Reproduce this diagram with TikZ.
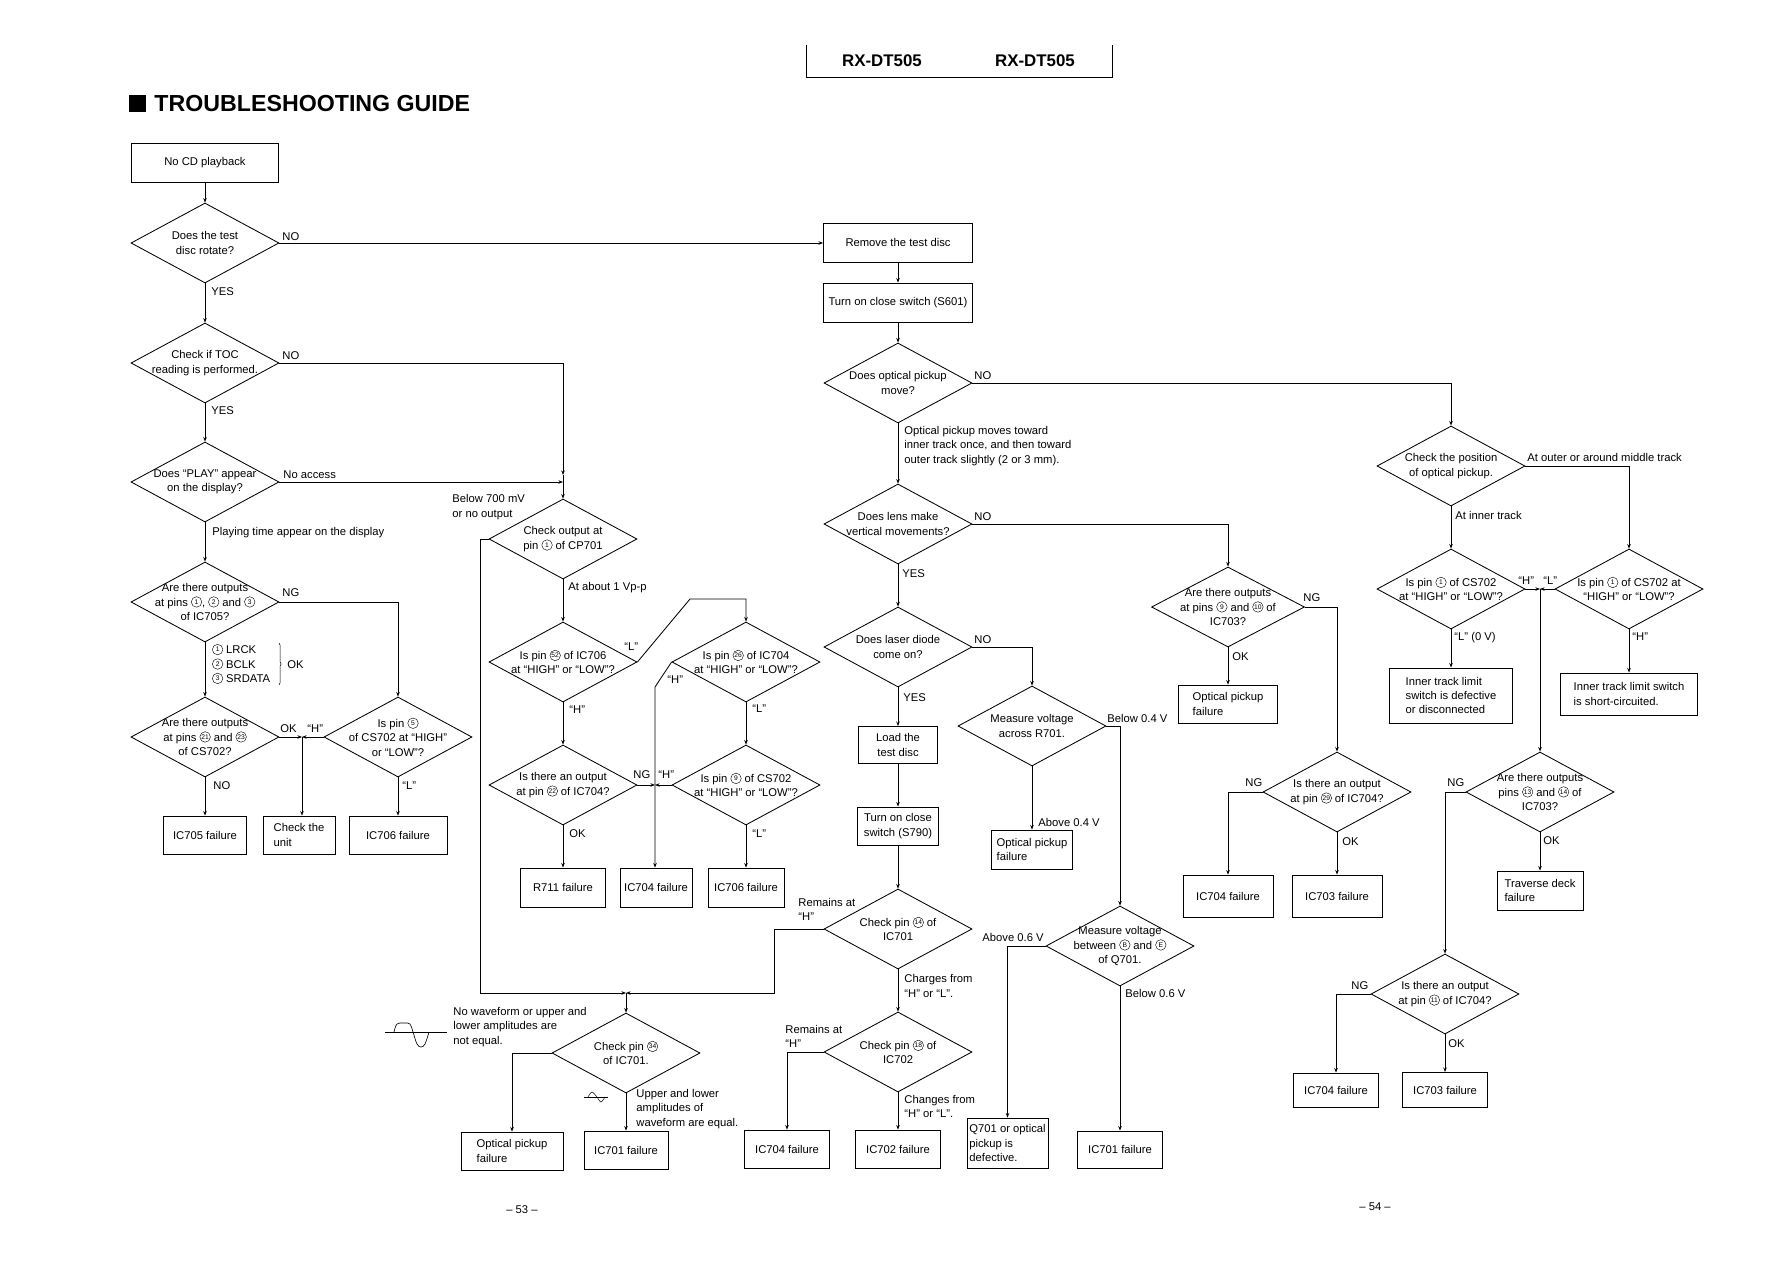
\documentclass[tikz,border=0pt]{standalone}
\usepackage{fontspec}
\setmainfont{Liberation Sans}
\usetikzlibrary{shapes.geometric, arrows.meta, decorations.pathreplacing}

\newcommand{\ft}{\fontsize{16}{20.5}\selectfont}
% số chân khoanh tròn
\newcommand{\pin}[1]{\tikz[baseline={([yshift=2pt]pn.south)}]\node[draw, circle, line width=0.6pt, inner sep=0pt, minimum size=15pt, font=\fontsize{9.5}{9.5}\selectfont] (pn) {#1};}

\begin{document}
\begin{tikzpicture}[x=0.5mm, y=-0.5mm, >={Stealth[length=6.5pt,width=5pt]}, line width=1.2pt, font=\ft,
	dia/.style={draw, diamond, minimum width=74mm, minimum height=40mm, inner sep=0pt},
	box/.style={draw, inner sep=2pt, align=center},
	lbox/.style={draw, inner sep=2pt, align=left},
	wh/.style 2 args={minimum width=#1*0.5mm, minimum height=#2*0.5mm},
	txt/.style={align=center, inner sep=0pt},
	lbl/.style={anchor=west, inner sep=0pt, align=left}]
	\useasboundingbox (0,0) rectangle (1786,1263);
	
	% Các cột chính
	\pgfmathsetmacro{\xA}{205}
	\pgfmathsetmacro{\xB}{563}
	\pgfmathsetmacro{\xC}{898}
	
	% Tiêu đề
	\fill (129,95) rectangle (146,112);
	\node[lbl, font=\fontsize{33}{33}\selectfont\bfseries] (title) at (154,103.5) {TROUBLESHOOTING GUIDE};
	\draw (806,45) -- (806,77) -- (1112,77) -- (1112,45);
	\node[font=\fontsize{24}{24}\selectfont\bfseries] (modA) at (882,61) {RX-DT505};
	\node[font=\fontsize{24}{24}\selectfont\bfseries] (modB) at (1035,61) {RX-DT505};
	
	% Cột trái
	\node[box, wh={147}{39}] (start) at (\xA,162.5) {No CD playback};
	\node[dia, label={[txt]center:{Does the test\\disc rotate?}}] (d1) at (\xA,243) {};
	\node[dia, label={[txt]center:{Check if TOC\\reading is performed.}}] (d2) at (\xA,363) {};
	\node[dia, label={[txt]center:{Does ``PLAY'' appear\\on the display?}}] (d3) at (\xA,482) {};
	\node[dia, label={[txt]center:{Are there outputs\\at pins \pin{1}, \pin{2} and \pin{3}\\of IC705?}}] (d4) at (\xA,602) {};
	\node[dia, label={[txt]center:{Are there outputs\\at pins \pin{21} and \pin{23}\\of CS702?}}] (d5) at (\xA,737) {};
	\node[dia, label={[txt]center:{Is pin \pin{5}\\of CS702 at ``HIGH''\\or ``LOW''?}}] (d6) at (398,737) {};
	\node[box, wh={83}{38}] (f705) at (\xA,835) {IC705 failure};
	\node[lbox, wh={72}{38}] (unit) at (299,835) {Check the\\unit};
	\node[box, wh={98}{38}] (f706a) at (398,835) {IC706 failure};
	
	% Cột giữa trái
	\node[dia, label={[txt]center:{Check output at\\pin \pin{1} of CP701}}] (d7) at (\xB,539) {};
	\node[dia, label={[txt]center:{Is pin \pin{52} of IC706\\at ``HIGH'' or ``LOW''?}}] (d8) at (\xB,662) {};
	\node[dia, label={[txt]center:{Is pin \pin{26} of IC704\\at ``HIGH'' or ``LOW''?}}] (d9) at (746,662) {};
	\node[dia, label={[txt]center:{Is there an output\\at pin \pin{22} of IC704?}}] (d10) at (\xB,785) {};
	\node[dia, label={[txt]center:{Is pin \pin{9} of CS702\\at ``HIGH'' or ``LOW''?}}] (d11) at (746,785) {};
	\node[box, wh={85}{39}] (f711) at (\xB,887.5) {R711 failure};
	\node[box, wh={72}{39}] (f704a) at (656,887.5) {IC704 failure};
	\node[box, wh={76}{39}] (f706b) at (746,887.5) {IC706 failure};
	\node[dia, label={[txt]center:{Check pin \pin{34}\\of IC701.}}] (d12) at (626,1053) {};
	\node[lbox, wh={102}{38}] (fopt1) at (512,1151) {Optical pickup\\failure};
	\node[box, wh={84}{38}] (f701a) at (626,1150) {IC701 failure};
	
	% Cột giữa
	\node[box, wh={149}{39}] (rem) at (\xC,242.5) {Remove the test disc};
	\node[box, wh={149}{39}] (s601) at (\xC,302.5) {Turn on close switch (S601)};
	\node[dia, label={[txt]center:{Does optical pickup\\move?}}] (d13) at (\xC,383) {};
	\node[dia, label={[txt]center:{Does lens make\\vertical movements?}}] (d14) at (\xC,524) {};
	\node[dia, label={[txt]center:{Does laser diode\\come on?}}] (d15) at (\xC,647) {};
	\node[box, wh={79}{37}] (load) at (\xC,745) {Load the\\test disc};
	\node[box, wh={81}{38}] (s790) at (\xC,826) {Turn on close\\switch (S790)};
	\node[dia, label={[txt]center:{Check pin \pin{14} of\\IC701}}] (d17) at (\xC,929) {};
	\node[dia, label={[txt]center:{Check pin \pin{18} of\\IC702}}] (d18) at (\xC,1052) {};
	\node[box, wh={85}{38}] (f704b) at (787,1149) {IC704 failure};
	\node[box, wh={85}{38}] (f702) at (\xC,1149) {IC702 failure};
	
	\node[dia, label={[txt]center:{Measure voltage\\across R701.}}] (d16) at (1032,726) {};
	\node[lbox, wh={81}{39}] (fopt2) at (1032,849.5) {Optical pickup\\failure};
	\node[dia, label={[txt]center:{Measure voltage\\between \pin{B} and \pin{E}\\of Q701.}}] (d19) at (1120,946) {};
	\node[lbox, wh={81}{50}] (fq701) at (1007.5,1143) {Q701 or optical\\pickup is\\defective.};
	\node[box, wh={85}{37}] (f701b) at (1120,1149.5) {IC701 failure};
	
	% Cột phải
	\node[dia, minimum width=76.5mm, label={[txt]center:{Are there outputs\\at pins \pin{9} and \pin{10} of\\IC703?}}] (d20) at (1228,607) {};
	\node[lbox, wh={99}{38}] (fopt3) at (1228,704) {Optical pickup\\failure};
	\node[dia, label={[txt]center:{Is there an output\\at pin \pin{29} of IC704?}}] (d21) at (1337,792) {};
	\node[box, wh={90}{42}] (f704c) at (1228,896) {IC704 failure};
	\node[box, wh={90}{42}] (f703a) at (1337,896) {IC703 failure};
	
	\node[dia, label={[txt]center:{Check the position\\of optical pickup.}}] (d22) at (1451,466) {};
	\node[dia, label={[txt]center:{Is pin \pin{1} of CS702\\at ``HIGH'' or ``LOW''?}}] (d23) at (1451,589) {};
	\node[dia, label={[txt]center:{Is pin \pin{1} of CS702 at\\``HIGH'' or ``LOW''?}}] (d24) at (1629,589) {};
	\node[lbox, wh={123}{55}] (finner) at (1451,695.5) {Inner track limit\\switch is defective\\or disconnected};
	\node[lbox, wh={137}{42}] (fshort) at (1629,694) {Inner track limit switch\\is short-circuited.};
	\node[dia, label={[txt]center:{Are there outputs\\pins \pin{13} and \pin{14} of\\IC703?}}] (d25) at (1540,792) {};
	\node[lbox, wh={86}{39}] (ftrav) at (1540,890.5) {Traverse deck\\failure};
	\node[dia, label={[txt]center:{Is there an output\\at pin \pin{11} of IC704?}}] (d26) at (1445,994) {};
	\node[box, wh={85}{34}] (f704d) at (1336,1090) {IC704 failure};
	\node[box, wh={85}{35}] (f703b) at (1445,1090) {IC703 failure};
	
	% Điểm nối
	\coordinate (j0) at (\xB,475);
	\coordinate (jA) at (302,737);
	\coordinate (jB) at (626,993);
	\coordinate (jC) at (655,785);
	\coordinate (jD) at (1540,589);
	
	% Mũi tên cột trái
	\draw[->] (start) -- (d1.north);
	\draw[->] (d1.east) -- (d1.east -| rem.west);
	\draw[->] (d1.south) -- (d2.north);
	\draw[->] (d2.east) -| (j0);
	\draw[->] (j0) -- (d7.north);
	\draw[->] (d2.south) -- (d3.north);
	\draw[->] (d3.east) -- (d3.east -| d7.north);
	\draw[->] (d3.south) -- (d4.north);
	\draw[->] (d4.east) -| (d6.north);
	\draw[->] (d4.south) -- (d5.north);
	\draw[->] (d5.east) -- (jA);
	\draw[->] (d6.west) -- (jA);
	\draw[->] (jA) -- (jA |- unit.north);
	\draw[->] (d5.south) -- (f705.north);
	\draw[->] (d6.south) -- (f706a.north);
	
	% Mũi tên cột giữa trái
	\draw[->] (d7.south) -- (d8.north);
	\draw[->] (d7.west) -- (480,539) |- (jB);
	\draw[->] (d17.west) -- (774,929) |- (jB);
	\draw[->] (jB) -- (d12.north);
	\draw[->] (d8.east) -- (690,599) -| (d9.north);
	\draw[->] (d8.south) -- (d10.north);
	\draw[->] (d9.west) -- (655,687) -- (jC |- f704a.north);
	\draw[->] (d10.east) -- (jC);
	\draw[->] (d11.west) -- (jC);
	\draw[->] (d9.south) -- (d11.north);
	\draw[->] (d10.south) -- (f711.north);
	\draw[->] (d11.south) -- (f706b.north);
	\draw[->] (d12.west) -| (fopt1.north);
	\draw[->] (d12.south) -- (f701a.north);
	
	% Mũi tên cột giữa
	\draw[->] (rem) -- (s601);
	\draw[->] (s601) -- (d13.north);
	\draw[->] (d13.south) -- (d14.north);
	\draw[->] (d14.south) -- (d15.north);
	\draw[->] (d15.south) -- (load);
	\draw[->] (load) -- (s790);
	\draw[->] (s790) -- (d17.north);
	\draw[->] (d17.south) -- (d18.north);
	\draw[->] (d18.south) -- (f702.north);
	\draw[->] (d18.west) -| (f704b.north);
	\draw[->] (d13.east) -| (d22.north);
	\draw[->] (d14.east) -| (d20.north);
	\draw[->] (d15.east) -| (d16.north);
	\draw[->] (d16.south) -- (fopt2.north);
	\draw[->] (d16.east) -| (d19.north);
	\draw[->] (d19.west) -| (fq701.north);
	\draw[->] (d19.south) -- (f701b.north);
	
	% Mũi tên cột phải
	\draw[->] (d20.south) -- (fopt3.north);
	\draw[->] (d20.east) -| (d21.north);
	\draw[->] (d21.west) -| (f704c.north);
	\draw[->] (d21.south) -- (f703a.north);
	\draw[->] (d22.east) -| (d24.north);
	\draw[->] (d22.south) -- (d23.north);
	\draw[->] (d23.south) -- (finner.north);
	\draw[->] (d24.south) -- (fshort.north);
	\draw[->] (d23.east) -- (jD);
	\draw[->] (d24.west) -- (jD);
	\draw[->] (jD) -- (d25.north);
	\draw[->] (d25.south) -- (ftrav.north);
	\draw[->] (d25.west) -| (d26.north);
	\draw[->] (d26.west) -| (f704d.north);
	\draw[->] (d26.south) -- (f703b.north);
	
	% Nhãn
	\node[lbl] (t1) at (282,237) {NO};
	\node[lbl] (t2) at (211,292) {YES};
	\node[lbl] (t3) at (282,356) {NO};
	\node[lbl] (t4) at (211,411) {YES};
	\node[lbl] (t5) at (283,475) {No access};
	\node[lbl] (t6) at (212,533) {Playing time appear on the display};
	\node[lbl] (t7) at (452,507) {Below 700 mV\\or no output};
	\node[lbl] (t8) at (282,593) {NG};
	\node[lbl] (t9) at (212,664) {\pin{1} LRCK\\\pin{2} BCLK\\\pin{3} SRDATA};
	\draw[decorate, decoration={brace, amplitude=3pt}, line width=0.7pt] (279,643) -- (279,685);
	\node[lbl] (t10) at (287,665) {OK};
	\node[lbl] (t11) at (280,729) {OK};
	\node[lbl] (t12) at (307,729) {``H''};
	\node[lbl] (t13) at (213,786) {NO};
	\node[lbl] (t14) at (402,786) {``L''};
	\node[lbl] (t15) at (568,588) {At about 1 Vp-p};
	\node[lbl] (t16) at (624,647) {``L''};
	\node[lbl] (t17) at (569,710) {``H''};
	\node[lbl] (t18) at (667,680) {``H''};
	\node[lbl] (t19) at (752,709) {``L''};
	\node[lbl] (t20) at (633,775) {NG};
	\node[lbl] (t21) at (658,775) {``H''};
	\node[lbl] (t22) at (569,834) {OK};
	\node[lbl] (t23) at (752,834) {``L''};
	\node[lbl] (t24) at (798,909.5) {Remains at\\``H''};
	\node[lbl] (t25) at (904,986) {Charges from\\``H'' or ``L''.};
	\node[lbl] (t26) at (785,1036.5) {Remains at\\``H''};
	\node[lbl] (t27) at (904,1106.5) {Changes from\\``H'' or ``L''.};
	\node[lbl] (t28) at (453,1027) {No waveform or upper and\\lower amplitudes are\\not equal.};
	\node[lbl] (t29) at (636,1109) {Upper and lower\\amplitudes of\\waveform are equal.};
	\node[lbl] (t30) at (974,376) {NO};
	\node[lbl] (t31) at (904,446) {Optical pickup moves toward\\inner track once, and then toward\\outer track slightly (2 or 3 mm).};
	\node[lbl] (t32) at (974,517) {NO};
	\node[lbl] (t33) at (902,574) {YES};
	\node[lbl] (t34) at (974,640) {NO};
	\node[lbl] (t35) at (903,698) {YES};
	\node[lbl] (t36) at (1107,718) {Below 0.4 V};
	\node[lbl] (t37) at (1038,822) {Above 0.4 V};
	\node[lbl] (t38) at (982,937) {Above 0.6 V};
	\node[lbl] (t39) at (1125,993) {Below 0.6 V};
	\node[lbl] (t40) at (1303,598) {NG};
	\node[lbl] (t41) at (1232,657) {OK};
	\node[lbl] (t42) at (1245,783) {NG};
	\node[lbl] (t43) at (1342,842) {OK};
	\node[lbl] (t44) at (1527,457) {At outer or around middle track};
	\node[lbl] (t45) at (1455,515) {At inner track};
	\node[lbl] (t46) at (1518,581) {``H''};
	\node[lbl] (t47) at (1543,581) {``L''};
	\node[lbl] (t48) at (1454,638) {``L'' (0 V)};
	\node[lbl] (t49) at (1632,637) {``H''};
	\node[lbl] (t50) at (1447,783) {NG};
	\node[lbl] (t51) at (1543,841) {OK};
	\node[lbl] (t52) at (1351,986) {NG};
	\node[lbl] (t53) at (1448,1044) {OK};
	
	% Dạng sóng
	\draw[line width=0.9pt] (385,1032) -- (447,1032);
	\draw[line width=0.9pt] plot[smooth, tension=0.6] coordinates {(394,1032) (397,1024) (404,1023) (410,1024) (413,1032) (417,1044) (421,1047) (425,1044) (429,1032)};
	\draw[line width=0.7pt] (584,1097) -- (608,1097);
	\draw[line width=0.7pt] plot[smooth] coordinates {(588,1097) (592,1092) (597,1097) (601,1102) (605,1097)};
	
	% Số trang
	\node (pg53) at (522,1210) {-- 53 --};
	\node (pg54) at (1375,1207) {-- 54 --};
\end{tikzpicture}
\end{document}
